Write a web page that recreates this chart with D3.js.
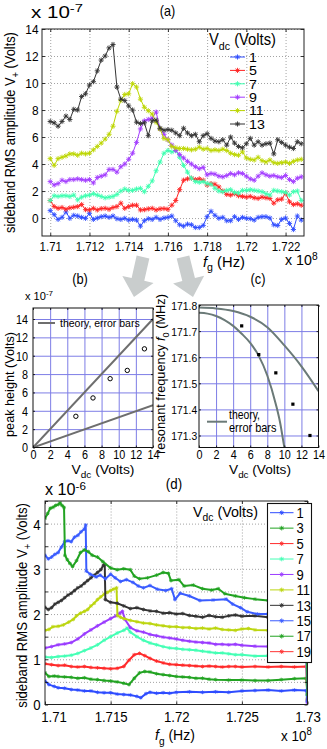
<!DOCTYPE html>
<html><head><meta charset="utf-8">
<script src="https://cdn.jsdelivr.net/npm/d3@7/dist/d3.min.js"></script>
<style>html,body{margin:0;padding:0;background:#fff;}svg{display:block;}</style>
</head><body>
<script>
// ================= DATA =================
// Panel (a): gate frequency (x1e8 Hz), sideband RMS amplitude (x1e-7 V)
const fA = [1.7100,1.7102,1.7104,1.7106,1.7108,1.7110,1.7112,1.7114,1.7116,1.7118,1.7120,1.7122,1.7124,1.7126,1.7128,1.7130,1.7132,1.7134,1.7136,1.7138,1.7140,1.7142,1.7144,1.7146,1.7148,1.7150,1.7152,1.7154,1.7156,1.7158,1.7160,1.7162,1.7164,1.7166,1.7168,1.7170,1.7172,1.7174,1.7176,1.7178,1.7180,1.7182,1.7184,1.7186,1.7188,1.7190,1.7192,1.7194,1.7196,1.7198,1.7200,1.7202,1.7204,1.7206,1.7208,1.7210,1.7212,1.7214,1.7216,1.7218,1.7220,1.7222,1.7224,1.7226,1.7228];
const a1 = [0.55,0.25,-0.1,0.05,0.45,-0.02,0.2,0.15,0.05,-0.02,0.35,-0.1,0.0,0.1,0.15,0.05,0.15,-0.05,-0.1,-0.02,-0.15,-0.1,-0.15,-0.6,-0.2,-0.05,-0.1,0.05,-0.1,0.0,0.05,0.15,-0.2,-0.5,-0.6,-0.45,-0.5,-0.7,-0.7,-0.55,0.1,0.5,0.2,-0.02,0.05,-0.2,-0.2,0.1,-0.1,0.05,-0.02,-0.05,-0.15,0.05,0.1,0.1,0.0,-0.5,-0.55,-0.1,0.0,-0.4,-0.85,0.15,-0.15];
const a5 = [1.3,0.85,0.72,0.78,0.65,0.75,0.8,0.85,1.0,0.62,0.6,0.72,0.6,0.7,0.72,0.65,0.78,0.85,1.1,0.72,0.85,0.95,0.95,0.6,0.62,0.68,0.72,0.6,0.68,0.7,0.65,0.95,1.3,2.1,2.8,2.9,2.95,2.85,2.9,2.8,2.45,2.55,2.5,2.3,2.0,1.75,1.7,1.8,1.65,1.6,1.55,1.6,1.5,1.45,1.55,1.5,1.45,1.1,1.35,1.4,1.85,1.2,1.0,1.05,0.95];
const a7 = [1.3,1.65,1.6,1.65,1.65,1.6,1.7,1.35,1.55,1.65,1.7,1.8,1.7,1.6,1.5,1.55,1.6,1.75,2.0,2.15,2.05,2.05,2.15,2.2,1.95,2.35,2.75,3.5,4.15,4.8,5.0,4.9,5.0,4.5,3.9,3.4,2.95,2.7,2.65,2.7,2.55,2.5,2.2,2.0,1.95,2.05,2.1,1.9,1.85,2.05,2.05,2.1,2.05,2.0,1.95,1.8,1.7,2.05,2.0,1.95,1.9,1.7,1.95,2.0,1.3];
const a9 = [2.7,2.45,2.55,2.8,2.7,2.85,2.85,2.9,2.85,2.8,2.85,2.6,3.0,3.1,3.2,3.6,3.6,3.4,3.8,4.0,4.35,4.8,5.6,6.6,7.2,7.3,7.4,7.85,6.6,6.2,5.8,5.4,5.0,4.7,4.45,4.2,4.0,3.8,3.65,3.75,3.2,3.3,3.25,3.1,3.05,3.15,3.3,3.2,3.35,3.3,3.1,2.9,2.8,3.1,3.35,3.2,3.1,3.15,3.05,3.0,3.15,2.85,2.7,2.95,3.05];
const a11 = [4.4,3.9,4.4,4.5,4.6,4.75,4.75,4.65,4.8,4.75,4.8,5.05,5.3,5.55,5.85,6.2,6.8,7.9,8.7,9.15,9.2,9.95,9.7,8.8,8.2,7.95,7.7,7.1,6.6,5.9,5.8,5.3,5.2,5.15,5.15,5.1,5.05,5.1,5.25,5.1,5.15,5.0,5.05,5.0,5.1,5.0,4.8,4.7,4.65,4.9,4.45,4.35,4.3,4.5,4.25,4.15,4.3,4.1,4.05,4.1,4.15,4.05,4.2,4.3,4.35];
const a13 = [7.15,7.05,6.8,7.15,7.55,7.3,8.05,8.0,9.0,9.2,9.85,10.1,10.9,11.7,12.0,12.6,12.85,9.7,8.8,8.7,8.3,8.0,7.1,7.0,7.05,6.1,7.2,7.25,6.65,6.5,6.55,6.5,6.3,6.1,6.65,6.3,6.1,6.2,5.65,6.1,6.25,5.9,5.7,5.65,5.8,5.4,6.0,5.55,5.3,5.2,5.5,5.9,5.4,5.65,5.4,5.5,5.55,4.75,5.8,5.6,5.4,5.25,5.15,5.65,5.5];
const aLabels = ['1','5','7','9','11','13'];
const aXTicks = [1.71,1.712,1.714,1.716,1.718,1.72,1.722];
const aYTicks = [0,2,4,6,8,10,12,14];

// Panel (b): peak height (x1e-7 V) vs Vdc
const bV = [5,7,9,11,13];
const bPeak = [3.4,5.4,7.5,8.4,10.75];
const bTheoryV = [0,14];
const bTheoryHi = [0,14.0];
const bTheoryLo = [0,4.6];
const bcXTicks = [0,2,4,6,8,10,12,14];
const bYTicks = [0,2,4,6,8,10,12,14];

// Panel (c): resonant frequency (MHz) vs Vdc
const cV = [5,7,9,11,13];
const cF0 = [171.72,171.61,171.54,171.42,171.30];
const cHiV = [0,2,4,6,8,10,12,14];
const cHi = [171.79,171.787,171.777,171.755,171.715,171.645,171.565,171.47];
const cLoV = [0,1,2,3,4,5,6,7,8,9,9.5,10,10.3];
const cLo = [171.77,171.767,171.758,171.742,171.72,171.69,171.655,171.605,171.53,171.42,171.35,171.254,171.2];
const cYTicks = [171.3,171.4,171.5,171.6,171.7,171.8];

// Panel (d): [gate frequency x1e8 Hz, amplitude x1e-6 V]
const dV1 = [[1.71000,0.52],[1.71030,0.44],[1.71070,0.40],[1.71100,0.37],[1.71150,0.36],[1.71200,0.33],[1.71250,0.32],[1.71300,0.30],[1.71350,0.30],[1.71400,0.27],[1.71450,0.26],[1.71500,0.26],[1.71550,0.23],[1.71600,0.22],[1.71650,0.21],[1.71700,0.18],[1.71730,0.15],[1.71770,0.24],[1.71800,0.27],[1.71850,0.25],[1.71900,0.26],[1.71950,0.25],[1.72000,0.27],[1.72100,0.28],[1.72200,0.27],[1.72300,0.28],[1.72400,0.27],[1.72500,0.30],[1.72600,0.31],[1.72700,0.32],[1.72800,0.30],[1.72900,0.32],[1.72990,0.31],[1.73000,0.06]];
const dV3 = [[1.71000,0.70],[1.71030,0.62],[1.71070,0.63],[1.71100,0.62],[1.71150,0.61],[1.71200,0.60],[1.71250,0.58],[1.71300,0.59],[1.71350,0.56],[1.71400,0.55],[1.71450,0.53],[1.71500,0.52],[1.71550,0.50],[1.71600,0.47],[1.71640,0.44],[1.71680,0.58],[1.71720,0.70],[1.71760,0.73],[1.71800,0.72],[1.71850,0.68],[1.71900,0.66],[1.71950,0.64],[1.72000,0.62],[1.72050,0.61],[1.72100,0.60],[1.72150,0.58],[1.72200,0.58],[1.72250,0.56],[1.72300,0.55],[1.72400,0.54],[1.72500,0.54],[1.72600,0.53],[1.72700,0.53],[1.72800,0.55],[1.72900,0.57],[1.72990,0.58],[1.73000,0.20]];
const dV5 = [[1.71000,0.90],[1.71050,0.88],[1.71100,0.86],[1.71150,0.87],[1.71200,0.84],[1.71250,0.83],[1.71300,0.84],[1.71350,0.82],[1.71400,0.81],[1.71450,0.80],[1.71500,0.79],[1.71550,0.80],[1.71600,0.84],[1.71640,0.98],[1.71680,1.10],[1.71720,1.13],[1.71760,1.08],[1.71800,1.02],[1.71850,0.96],[1.71900,0.92],[1.71950,0.89],[1.72000,0.88],[1.72050,0.87],[1.72100,0.86],[1.72150,0.85],[1.72200,0.84],[1.72250,0.85],[1.72300,0.84],[1.72350,0.83],[1.72400,0.84],[1.72450,0.84],[1.72500,0.83],[1.72600,0.84],[1.72700,0.83],[1.72800,0.84],[1.72900,0.83],[1.72990,0.84],[1.73000,0.12]];
const dV7 = [[1.71000,1.05],[1.71050,1.04],[1.71100,1.06],[1.71150,1.07],[1.71200,1.09],[1.71250,1.13],[1.71300,1.19],[1.71350,1.25],[1.71400,1.32],[1.71450,1.42],[1.71500,1.50],[1.71550,1.58],[1.71600,1.64],[1.71625,1.69],[1.71650,1.60],[1.71700,1.50],[1.71750,1.42],[1.71800,1.36],[1.71850,1.32],[1.71900,1.28],[1.71950,1.25],[1.72000,1.24],[1.72050,1.22],[1.72100,1.21],[1.72150,1.20],[1.72200,1.18],[1.72250,1.16],[1.72300,1.14],[1.72350,1.14],[1.72400,1.12],[1.72450,1.10],[1.72500,1.10],[1.72600,1.07],[1.72700,1.08],[1.72800,1.06],[1.72900,1.07],[1.72990,1.06],[1.73000,0.16]];
const dV9 = [[1.71000,1.25],[1.71050,1.28],[1.71100,1.32],[1.71150,1.34],[1.71200,1.37],[1.71250,1.45],[1.71300,1.56],[1.71350,1.65],[1.71400,1.74],[1.71450,1.82],[1.71500,1.90],[1.71540,1.96],[1.71570,2.02],[1.71590,2.06],[1.71610,1.88],[1.71650,1.70],[1.71700,1.63],[1.71750,1.60],[1.71800,1.55],[1.71850,1.52],[1.71900,1.49],[1.71950,1.47],[1.72000,1.45],[1.72050,1.42],[1.72100,1.40],[1.72150,1.38],[1.72200,1.37],[1.72250,1.36],[1.72300,1.33],[1.72350,1.33],[1.72400,1.32],[1.72450,1.33],[1.72500,1.31],[1.72600,1.29],[1.72700,1.28],[1.72800,1.27],[1.72900,1.26],[1.72990,1.25],[1.73000,0.04]];
const dV11 = [[1.71000,1.64],[1.71030,1.66],[1.71060,1.72],[1.71100,1.73],[1.71140,1.76],[1.71180,1.82],[1.71215,1.88],[1.71240,1.96],[1.71270,2.02],[1.71300,2.06],[1.71325,2.10],[1.71350,2.18],[1.71375,2.24],[1.71400,2.32],[1.71425,2.38],[1.71450,2.44],[1.71475,2.48],[1.71500,2.52],[1.71520,2.55],[1.71545,2.58],[1.71552,1.97],[1.71575,1.93],[1.71600,1.90],[1.71650,1.86],[1.71700,1.83],[1.71750,1.80],[1.71800,1.79],[1.71850,1.76],[1.71900,1.74],[1.71950,1.72],[1.72000,1.72],[1.72050,1.70],[1.72100,1.70],[1.72150,1.68],[1.72200,1.69],[1.72250,1.67],[1.72300,1.69],[1.72350,1.66],[1.72400,1.65],[1.72450,1.64],[1.72500,1.67],[1.72550,1.68],[1.72600,1.65],[1.72700,1.64],[1.72800,1.63],[1.72900,1.63],[1.72990,1.62],[1.73000,0.24]];
const dV13 = [[1.71000,2.15],[1.71025,2.10],[1.71050,2.14],[1.71075,2.22],[1.71100,2.26],[1.71125,2.30],[1.71150,2.36],[1.71175,2.42],[1.71200,2.46],[1.71225,2.52],[1.71250,2.58],[1.71275,2.62],[1.71300,2.68],[1.71325,2.74],[1.71350,2.80],[1.71375,2.86],[1.71400,2.92],[1.71425,2.98],[1.71445,3.08],[1.71455,3.10],[1.71460,2.32],[1.71500,2.26],[1.71550,2.24],[1.71600,2.18],[1.71650,2.12],[1.71700,2.14],[1.71750,2.10],[1.71800,2.07],[1.71850,2.06],[1.71900,2.02],[1.71950,2.03],[1.72000,2.00],[1.72050,2.01],[1.72100,1.97],[1.72150,1.95],[1.72200,1.93],[1.72250,1.97],[1.72300,1.94],[1.72350,1.93],[1.72400,1.96],[1.72450,1.98],[1.72500,1.95],[1.72600,1.96],[1.72700,1.93],[1.72800,1.92],[1.72900,1.93],[1.72990,1.92],[1.73000,0.10]];
const dV15 = [[1.71000,3.30],[1.71025,3.22],[1.71050,3.26],[1.71075,3.32],[1.71100,3.36],[1.71125,3.48],[1.71150,3.60],[1.71175,3.62],[1.71200,3.60],[1.71225,3.70],[1.71250,3.74],[1.71275,3.82],[1.71300,3.88],[1.71310,3.97],[1.71315,2.95],[1.71345,2.88],[1.71390,2.82],[1.71420,2.86],[1.71460,2.78],[1.71500,2.88],[1.71535,2.80],[1.71575,2.72],[1.71620,2.76],[1.71670,2.70],[1.71710,2.62],[1.71750,2.58],[1.71800,2.63],[1.71855,2.55],[1.71920,2.52],[1.71965,2.56],[1.71990,2.32],[1.72030,2.46],[1.72100,2.40],[1.72180,2.30],[1.72280,2.31],[1.72380,2.33],[1.72430,2.22],[1.72490,2.14],[1.72540,2.05],[1.72620,2.00],[1.72700,2.00],[1.72800,1.98],[1.72900,2.00],[1.72990,1.98],[1.73000,0.08]];
const dV17 = [[1.71000,4.12],[1.71020,4.22],[1.71040,4.34],[1.71060,4.36],[1.71080,4.40],[1.71100,4.42],[1.71115,4.46],[1.71130,4.40],[1.71145,4.36],[1.71152,3.30],[1.71170,3.20],[1.71190,3.12],[1.71210,3.05],[1.71240,3.18],[1.71270,3.36],[1.71300,3.42],[1.71330,3.38],[1.71360,3.30],[1.71400,3.26],[1.71440,3.16],[1.71500,3.02],[1.71550,2.98],[1.71600,3.00],[1.71650,2.98],[1.71680,2.84],[1.71720,2.78],[1.71780,2.80],[1.71850,2.86],[1.71900,2.92],[1.71940,2.90],[1.71960,2.74],[1.72020,2.76],[1.72060,2.62],[1.72130,2.64],[1.72200,2.56],[1.72270,2.53],[1.72320,2.56],[1.72370,2.45],[1.72450,2.40],[1.72520,2.36],[1.72600,2.33],[1.72700,2.30],[1.72800,2.32],[1.72900,2.28],[1.72990,2.30],[1.73000,0.22]];
const dV19 = [];
const dLabels = ['1','3','5','7','9','11','13','15','17','19'];
const dXTicks = [1.71,1.715,1.72,1.725,1.73];
const dYTicks = [0,0.5,1,1.5,2,2.5,3,3.5,4,4.5];

// ================= STYLE =================
const aColors = ['#2e4cff','#ff2323','#3dffb0','#a33cff','#bcd600','#333333'];
const dColors = ['#2e4cff','#22a322','#ff2b2b','#45ffb5','#9b3cff','#bcd610','#333333','#3a5cff','#22a322','#ff3535'];
const theoryB = '#6e6e6e', theoryC = '#6b7a78', gridBlue = '#7d7de6';
const FONT = '"Liberation Sans", Arial, Helvetica, sans-serif';

const svg = d3.select('body').append('svg').attr('width',327).attr('height',749).attr('font-family',FONT);

function rich(t, parts, size, supK){
  let shift = 0;
  parts.forEach(p => {
    const s = p[0], k = p[1] || '';
    const ts = t.append('tspan').text(s);
    let target = 0, fs = size;
    if (k === 'sub') { target = size*0.3; fs = size*0.72; }
    if (k === 'sup') { target = -size*(supK || 0.38); fs = size*0.72; }
    if (k === 'it') ts.attr('font-style','italic');
    ts.attr('font-size', fs);
    if (Math.abs(target-shift) > 1e-6) { ts.attr('dy', (target-shift).toFixed(2)); shift = target; }
  });
}
function txt(p, x, y, parts, size, o = {}){
  const g = p.append('g').attr('transform', `translate(${x},${y})` + (o.rot ? ` rotate(${o.rot})` : ''));
  const t = g.append('text').attr('font-size', size).attr('text-anchor', o.anchor || 'start').attr('fill', '#000');
  rich(t, typeof parts === 'string' ? [[parts,'']] : parts, size, o.supK);
  let sx = o.sx || 1;
  if (o.w) { const b = t.node().getBBox().width; if (b > 0) sx = o.w / b; }
  t.attr('transform', `scale(${sx},1)`);
  return t;
}
const star = r => { const k = r*0.72; return `M${-r},0H${r}M0,${-r}V${r}M${-k},${-k}L${k},${k}M${-k},${k}L${k},${-k}`; };

let clipN = 0;
function panel(x, y, o){
  const g = svg.append('g');
  const [x0,x1] = x.range(), [y0,y1] = y.range();
  if (o.grid) {
    const sty = s => { s.select('.domain').remove(); s.selectAll('line').attr('stroke', o.grid.c).attr('stroke-width', o.grid.w).attr('stroke-dasharray', o.grid.d || null); };
    g.append('g').attr('transform', `translate(0,${y0})`).call(d3.axisBottom(x).tickValues(o.gx).tickSize(-(y0-y1)).tickFormat('')).call(sty);
    g.append('g').attr('transform', `translate(${x0},0)`).call(d3.axisLeft(y).tickValues(o.gy).tickSize(-(x1-x0)).tickFormat('')).call(sty);
  }
  const id = 'clip' + (++clipN);
  g.append('clipPath').attr('id', id).append('rect').attr('x', x0).attr('y', y1).attr('width', x1-x0).attr('height', y0-y1);
  const plot = g.append('g').attr('clip-path', `url(#${id})`);
  return {g, plot};
}
function frame(P, x, y, o){
  const [x0,x1] = x.range(), [y0,y1] = y.range();
  const ax = P.g.append('g');
  const bot = ax.append('g').attr('transform', `translate(0,${y0})`).call(d3.axisBottom(x).tickValues(o.xt).tickSize(-o.tl).tickFormat(o.xf));
  ax.append('g').attr('transform', `translate(0,${y1})`).call(d3.axisTop(x).tickValues(o.xt).tickSize(-o.tl).tickFormat(''));
  const lef = ax.append('g').attr('transform', `translate(${x0},0)`).call(d3.axisLeft(y).tickValues(o.yt).tickSize(-o.tl).tickFormat(o.yf));
  ax.append('g').attr('transform', `translate(${x1},0)`).call(d3.axisRight(y).tickValues(o.yt).tickSize(-o.tl).tickFormat(''));
  ax.selectAll('.domain').remove();
  ax.selectAll('g').attr('font-family', null).attr('font-size', null);
  ax.selectAll('.tick line').attr('stroke', '#000').attr('stroke-width', 0.8);
  ax.selectAll('.tick text').filter(function(){ return !this.textContent; }).remove();
  bot.selectAll('.tick text').attr('font-size', o.xs).attr('y', 0).attr('dy', 0).attr('fill', '#000')
    .attr('transform', (d, i) => `translate(${i === 0 ? (o.x0dx || 0) : 0},${o.xb}) scale(${o.sx},1)`);
  lef.selectAll('.tick text').attr('font-size', o.ys).attr('x', 0).attr('dy', '0.36em').attr('text-anchor', 'end').attr('fill', '#000')
    .attr('transform', `translate(${-o.yp},0) scale(${o.sx},1)`);
  ax.append('rect').attr('x', x0).attr('y', y1).attr('width', x1-x0).attr('height', y0-y1)
    .attr('fill', 'none').attr('stroke', o.fc || '#222').attr('stroke-width', o.fw || 1);
}
function series(plot, pts, x, y, color, lw, mr, mw){
  plot.append('path').datum(pts).attr('d', d3.line().x(d => x(d[0])).y(d => y(d[1])))
    .attr('fill', 'none').attr('stroke', color).attr('stroke-width', lw).attr('stroke-linejoin', 'round');
  plot.append('g').selectAll('path').data(pts).join('path')
    .attr('transform', d => `translate(${x(d[0])},${y(d[1])})`).attr('d', star(mr))
    .attr('stroke', color).attr('stroke-width', mw).attr('fill', 'none');
}
const fmtF = d => String(+d.toFixed(3));

// ================= ARROWS =================
function arrow(tx, ty, hx, hy, w, W, L){
  const len = Math.hypot(hx-tx, hy-ty), ux = (hx-tx)/len, uy = (hy-ty)/len, nx = -uy, ny = ux;
  const nkx = hx - ux*L, nky = hy - uy*L;
  const P = [[tx+nx*w/2, ty+ny*w/2],[nkx+nx*w/2, nky+ny*w/2],[nkx+nx*W/2, nky+ny*W/2],[hx,hy],[nkx-nx*W/2, nky-ny*W/2],[nkx-nx*w/2, nky-ny*w/2],[tx-nx*w/2, ty-ny*w/2]];
  svg.append('path').attr('d', 'M' + P.map(p => p.join(',')).join('L') + 'Z').attr('fill', '#c9cdcd');
}
arrow(143, 257, 134, 297, 13, 32, 18);
arrow(183, 257, 193, 297, 13, 32, 18);

// ================= PANEL (a) =================
{
  const x = d3.scaleLinear([1.70958, 1.72294], [42, 304]);
  const y = d3.scaleLinear([-1.33, 14], [236, 29]);
  const P = panel(x, y, {grid:{c:'#8c8c8c', w:0.8, d:'1,2'}, gx:aXTicks, gy:aYTicks});
  [a1,a5,a7,a9,a11,a13].forEach((arr, i) => {
    series(P.plot, fA.map((f, j) => [f, arr[j]]), x, y, aColors[i], 1, 2.6, 0.9);
  });
  frame(P, x, y, {xt:aXTicks, yt:aYTicks, xf:fmtF, yf:d3.format('d'), tl:3, xs:13, ys:13.5, xb:14.5, yp:3.5, sx:0.88});
  txt(svg, 209, 45, [['V',''],['dc','sub'],[' (Volts)','']], 16, {w:67});
  aLabels.forEach((lab, i) => {
    const cy = 57 + i*13.4;
    svg.append('line').attr('x1', 230).attr('x2', 245).attr('y1', cy).attr('y2', cy).attr('stroke', aColors[i]).attr('stroke-width', 1);
    svg.append('path').attr('transform', `translate(237.5,${cy})`).attr('d', star(2.6)).attr('stroke', aColors[i]).attr('stroke-width', 0.9).attr('fill', 'none');
    txt(svg, 249, cy + 4.7, lab, 13.2, {sx:1.08});
  });
  txt(svg, 31, 18.3, [['x 10',''],['-7','sup']], 16, {w:52});
  txt(svg, 167.5, 16, '(a)', 14, {anchor:'middle', sx:0.9});
  txt(svg, 203, 266.5, [['f','it'],['g','sub'],[' (Hz)','']], 14.5, {w:42});
  txt(svg, 285, 265, [['x 10',''],['8','sup']], 14, {w:33});
  txt(svg, 14.5, 132.5, [['sideband RMS amplitude V',''],['+','sub'],['  (Volts)','']], 14, {anchor:'middle', rot:-90, w:201});
}

// ================= PANEL (b) =================
{
  const x = d3.scaleLinear([0, 14], [33, 153]);
  const y = d3.scaleLinear([0, 15.2], [447.5, 308]);
  const P = panel(x, y, {grid:{c:gridBlue, w:1}, gx:[2,4,6,8,10,12], gy:[2,4,6,8,10,12,14]});
  const ln = d3.line().x(d => x(d[0])).y(d => y(d[1]));
  [bTheoryHi, bTheoryLo].forEach(arr => {
    P.plot.append('path').attr('d', ln(bTheoryV.map((v, i) => [v, arr[i]]))).attr('stroke', theoryB).attr('stroke-width', 2).attr('fill', 'none');
  });
  P.plot.selectAll('circle').data(bV.map((v, i) => [v, bPeak[i]])).join('circle')
    .attr('cx', d => x(d[0])).attr('cy', d => y(d[1])).attr('r', 2.2).attr('fill', 'none').attr('stroke', '#000').attr('stroke-width', 1);
  frame(P, x, y, {xt:bcXTicks, yt:bYTicks, xf:d3.format('d'), yf:d3.format('d'), tl:2, xs:12, ys:12, xb:11.5, yp:5, sx:0.9, fc:'#111'});
  svg.append('line').attr('x1', 38).attr('x2', 55).attr('y1', 323).attr('y2', 323).attr('stroke', theoryB).attr('stroke-width', 2);
  txt(svg, 60, 327, 'theory, error bars', 11.5, {w:80});
  txt(svg, 25, 300, [['x 10',''],['-7','sup']], 11, {w:28});
  txt(svg, 80, 284, '(b)', 14, {anchor:'middle', sx:0.92});
  txt(svg, 103, 474, [['V',''],['dc','sub'],['  (Volts)','']], 13.5, {anchor:'middle', w:63});
  txt(svg, 13.5, 384.5, 'peak height  (Volts)', 13, {anchor:'middle', rot:-90, w:105});
}

// ================= PANEL (c) =================
{
  const x = d3.scaleLinear([0, 14], [199, 318.5]);
  const y = d3.scaleLinear([171.254, 171.8], [447.5, 305]);
  const P = panel(x, y, {grid:{c:gridBlue, w:1}, gx:[2,4,6,8,10,12], gy:[171.3,171.4,171.5,171.6,171.7]});
  const ln = d3.line().curve(d3.curveMonotoneX).x(d => x(d[0])).y(d => y(d[1]));
  P.plot.append('path').attr('d', ln(cHiV.map((v, i) => [v, cHi[i]]))).attr('stroke', theoryC).attr('stroke-width', 2).attr('fill', 'none');
  P.plot.append('path').attr('d', ln(cLoV.map((v, i) => [v, cLo[i]]))).attr('stroke', theoryC).attr('stroke-width', 2).attr('fill', 'none');
  P.plot.selectAll('rect.pt').data(cV.map((v, i) => [v, cF0[i]])).join('rect').attr('class', 'pt')
    .attr('x', d => x(d[0]) - 1.6).attr('y', d => y(d[1]) - 1.6).attr('width', 3.2).attr('height', 3.2).attr('fill', '#000');
  frame(P, x, y, {xt:bcXTicks, yt:cYTicks, xf:d3.format('d'), yf:d3.format('.1f'), tl:2, xs:12, ys:11.5, xb:11.5, yp:1.8, sx:0.9, fc:'#111'});
  svg.append('line').attr('x1', 207).attr('x2', 227).attr('y1', 421.7).attr('y2', 421.7).attr('stroke', theoryC).attr('stroke-width', 2);
  txt(svg, 229, 418.5, 'theory,', 12, {w:31});
  txt(svg, 229, 431.5, 'error bars', 12, {w:47.5});
  txt(svg, 258, 284, '(c)', 14, {anchor:'middle', sx:0.92});
  txt(svg, 260, 474, [['V',''],['dc','sub'],['  (Volts)','']], 13.5, {anchor:'middle', w:62});
  txt(svg, 165, 374, [['resonant frequency ',''],['f','it'],['0','sub'],['  (MHz)','']], 13, {anchor:'middle', rot:-90, w:160});
}

// ================= PANEL (d) =================
{
  const x = d3.scaleLinear([1.71, 1.73], [45, 307.5]);
  const y = d3.scaleLinear([0, 4.5], [704.5, 501]);
  const P = panel(x, y, {grid:{c:'#8c8c8c', w:0.8, d:'1,2'}, gx:[1.715,1.72,1.725], gy:[0.5,1,1.5,2,2.5,3,3.5,4]});
  [dV1,dV3,dV5,dV7,dV9,dV11,dV13,dV15,dV17,dV19].forEach((arr, i) => {
    if (arr.length) series(P.plot, arr, x, y, dColors[i], 2, 1.9, 0.8);
  });
  frame(P, x, y, {xt:dXTicks, yt:dYTicks, xf:fmtF, yf:d => (Number.isInteger(d) ? String(d) : ''), tl:3, xs:15, ys:15, xb:17.5, yp:4.5, sx:0.88, x0dx:8.5});
  svg.append('rect').attr('x', 267.5).attr('y', 503.5).attr('width', 44).attr('height', 159).attr('fill', '#fff').attr('stroke', '#111').attr('stroke-width', 1.1);
  dLabels.forEach((lab, i) => {
    const cy = 512.7 + i*15.44;
    svg.append('line').attr('x1', 270).attr('x2', 293.5).attr('y1', cy).attr('y2', cy).attr('stroke', dColors[i]).attr('stroke-width', 1);
    svg.append('path').attr('transform', `translate(281.7,${cy})`).attr('d', star(2.3)).attr('stroke', dColors[i]).attr('stroke-width', 0.9).attr('fill', 'none');
    txt(svg, 296.5, cy + 5.2, lab, 14.5, {sx:0.9});
  });
  txt(svg, 193, 517, [['V',''],['dc','sub'],[' (Volts)','']], 14.5, {w:65});
  txt(svg, 45, 495, [['x 10',''],['-6','sup']], 16, {w:41, supK:0.33});
  txt(svg, 174, 489, '(d)', 14.5, {anchor:'middle', sx:0.92});
  txt(svg, 155, 740, [['f','it'],['g','sub'],[' (Hz)','']], 15, {w:40});
  txt(svg, 281, 741, [['x 10',''],['8','sup']], 14.5, {w:31});
  txt(svg, 26.5, 605.5, [['sideband RMS amplitude V',''],['+','sub'],['  (Volts)','']], 14.5, {anchor:'middle', rot:-90, w:205});
}
</script>
</body></html>
